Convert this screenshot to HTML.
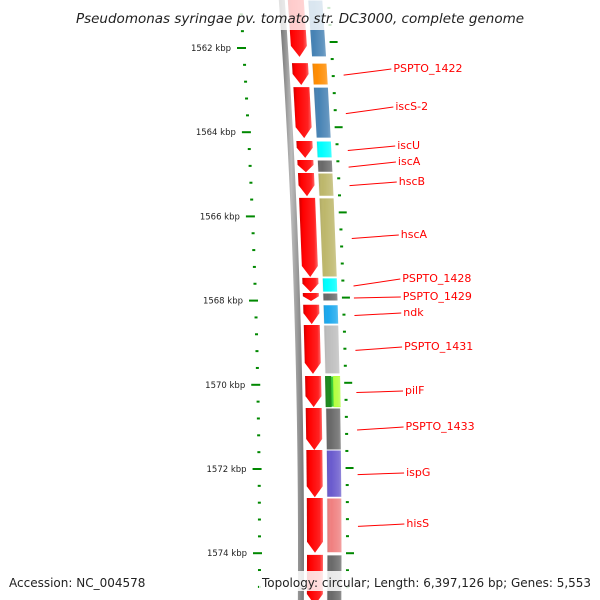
<!DOCTYPE html>
<html><head><meta charset="utf-8"><style>
html,body{margin:0;padding:0;background:#fff;}
svg{display:block;}
text{font-family:"DejaVu Sans","Liberation Sans",sans-serif;}
</style></head><body>
<svg id="map" width="600" height="600" viewBox="0 0 600 600" xmlns="http://www.w3.org/2000/svg">
<defs>
<linearGradient id="redg" x1="0" x2="1" y1="0" y2="0"><stop offset="0" stop-color="#c00"/><stop offset="0.2" stop-color="#f00"/><stop offset="0.8" stop-color="#f22"/><stop offset="1" stop-color="#f66"/></linearGradient>
<linearGradient id="bbg" x1="0" x2="1"><stop offset="0" stop-color="#666"/><stop offset="0.5" stop-color="#bbb"/><stop offset="1" stop-color="#777"/></linearGradient>
<linearGradient id="shine" x1="0" x2="1"><stop offset="0" stop-color="#000" stop-opacity="0.1"/><stop offset="0.3" stop-color="#fff" stop-opacity="0"/><stop offset="0.8" stop-color="#fff" stop-opacity="0.15"/><stop offset="1" stop-color="#fff" stop-opacity="0.3"/></linearGradient>
</defs>
<g id="layer-back"></g>
<g id="layer-feat"></g>
<g id="layer-ticks"></g>
<g id="layer-labels"></g>
<rect x="0" y="0" width="600" height="30" fill="#fff" fill-opacity="0.8"/>
<text x="300" y="23" text-anchor="middle" font-size="13.5" font-style="italic" fill="#222">Pseudomonas syringae pv. tomato str. DC3000, complete genome</text>
<rect x="259" y="571" width="341" height="20" fill="#fff" fill-opacity="0.85"/>
<text x="9" y="587" font-size="12" fill="#222">Accession: NC_004578</text>
<text x="262" y="587" font-size="12" fill="#222" textLength="329" lengthAdjust="spacingAndGlyphs">Topology: circular; Length: 6,397,126 bp; Genes: 5,553</text>
</svg>
<script>
const geneNames = ["", "PSPTO_1422", "iscS-2", "iscU", "iscA", "hscB", "hscA", "PSPTO_1428", "PSPTO_1429", "ndk", "PSPTO_1431", "pilF", "PSPTO_1433", "ispG", "hisS", ""];
const geneStarts = [1560.86, 1562.36, 1562.93, 1564.21, 1564.66, 1564.97, 1565.56, 1567.46, 1567.82, 1568.10, 1568.58, 1569.79, 1570.55, 1571.55, 1572.69, 1574.04];
const geneEnds = [1562.21, 1562.88, 1564.14, 1564.61, 1564.95, 1565.52, 1567.44, 1567.80, 1568.01, 1568.56, 1569.74, 1570.53, 1571.55, 1572.67, 1573.99, 1575.23];
const geneColors = ["#4682b4", "#ff8c00", "#4682b4", "#00ffff", "#696969", "#bdb76b", "#bdb76b", "#00ffff", "#696969", "#1aa8ee", "#bebebe", "#32cd32", "#696969", "#6a5acd", "#f08080", "#696969"];
const labelY = [0, 72, 110, 149, 165, 185, 238, 282, 300, 316, 350, 394, 430, 476, 527, 0];
const tickLabels = ["1562 kbp", "1564 kbp", "1566 kbp", "1568 kbp", "1570 kbp", "1572 kbp", "1574 kbp"];
const tickValues = [1562, 1564, 1566, 1568, 1570, 1572, 1574];

const NS = "http://www.w3.org/2000/svg";
function yScale(k){ return 48 + (k - 1562) * 42.1; }
function sx(y){ const t = y - 48; return 0.0635 * t - 0.000063 * t * t; }
function mk(tag, attrs, parent){ const e = document.createElementNS(NS, tag); for (const k in attrs) e.setAttribute(k, attrs[k]); parent.appendChild(e); return e; }
function poly(x0, w, y0, y1){ return [[x0+sx(y0),y0],[x0+w+sx(y0),y0],[x0+w+sx(y1),y1],[x0+sx(y1),y1]].map(p=>p.join(",")).join(" "); }

const back = document.getElementById("layer-back");
const feat = document.getElementById("layer-feat");
const ticks = document.getElementById("layer-ticks");
const labs = document.getElementById("layer-labels");

let bb = [];
for (let y = -5; y <= 605; y += 10) bb.push([282 + sx(y), y]);
for (let y = 605; y >= -5; y -= 10) bb.push([288 + sx(y), y]);
const bbEl = mk("polygon", {points: bb.map(p=>p.join(",")).join(" "), fill: "url(#bbg)"}, back);



for (let i = 0; i < geneNames.length; i++) {
  const y0 = yScale(geneStarts[i]), y1 = yScale(geneEnds[i]);
  const tip = Math.min(11, (y1 - y0) * 0.6);
  const ax = 291, aw = 16;
  const pts = [[ax+sx(y0),y0],[ax+aw+sx(y0),y0],[ax+aw+sx(y1-tip),y1-tip],[ax+aw/2+sx(y1),y1],[ax+sx(y1-tip),y1-tip]];
  const arrow = mk("polygon", {points: pts.map(p=>p.join(",")).join(" "), fill: "url(#redg)"}, feat);
  
  
  const box = mk("polygon", {points: poly(311, 15, y0, y1), fill: geneColors[i], stroke: "#fff", "stroke-width": 1}, feat);
  
  
  if (geneNames[i] === "pilF") {
    const dk = mk("polygon", {points: poly(311, 6, y0, y1), fill: "#1c8a1c"}, feat);
    
    
    const lt = mk("polygon", {points: poly(319, 7, y0, y1), fill: "#adff2f"}, feat);
    
    
  }
  const sh = mk("polygon", {points: poly(311, 15, y0+0.5, y1-0.5), fill: "url(#shine)"}, feat);
  
  
  if (geneNames[i]) {
    const ym = (y0 + y1) / 2, ly = labelY[i];
    const lx = 392 + sx(ly) * 0.9;
    const ln = mk("line", {x1: 342 + sx(ym), y1: ym + 1, x2: lx - 2, y2: ly - 3, stroke: "#f00", "stroke-width": 1}, labs);
    
    
    const t = mk("text", {x: lx, y: ly, "font-size": 11, fill: "#f00"}, labs);
    t.textContent = geneNames[i];
    
    
  }
}

for (let n = -5; n <= 35; n++) {
  const kk = 1562 + n * 0.4;
  const y = yScale(kk);
  if (y < 0 || y > 600) continue;
  const major = ((n % 5) + 5) % 5 === 0;
  const lt = mk("rect", {x: 242 + sx(y) - (major ? 5 : 0), y: y - 1, width: major ? 9 : 3, height: 2, fill: "#080"}, ticks);
  
  
  const ry = y - 6 * (1 - (y - 48) / 505);
  const rt = mk("rect", {x: 330 + sx(ry), y: ry - 1, width: major ? 8 : 3, height: 2, fill: "#080"}, ticks);
  
  
}
for (let i = 0; i < tickValues.length; i++) {
  const y = yScale(tickValues[i]);
  const t = mk("text", {x: 231 + sx(y), y: y + 3, "font-size": 8.5, fill: "#222", "text-anchor": "end"}, ticks);
  t.textContent = tickLabels[i];
  
  
}
</script>
</body></html>
